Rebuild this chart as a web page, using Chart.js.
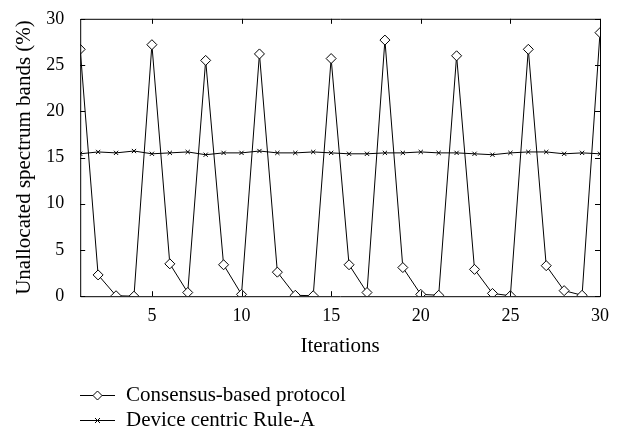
<!DOCTYPE html>
<html>
<head>
<meta charset="utf-8">
<script src="https://cdn.jsdelivr.net/npm/chart.js@4.4.1/dist/chart.umd.min.js"></script>
<style>
	html, body { margin: 0; padding: 0; background: #fff; }
	#wrap { width: 622px; height: 430px; }
</style>
</head>
<body>
<div id="wrap"><canvas id="lineChart" width="622" height="430"></canvas></div>
<script>
const iterations = [1,2,3,4,5,6,7,8,9,10,11,12,13,14,15,16,17,18,19,20,21,22,23,24,25,26,27,28,29,30];
const consensus = [26.7,2.3,0.05,0,27.2,3.5,0.4,25.5,3.4,0.2,26.2,2.6,0.1,0.05,25.7,3.4,0.4,27.7,3.1,0.2,0.1,26.0,2.9,0.3,0.05,26.7,3.3,0.6,0.1,28.5];
const ruleA = [15.4,15.6,15.5,15.7,15.4,15.5,15.6,15.3,15.5,15.5,15.7,15.5,15.5,15.6,15.5,15.4,15.4,15.5,15.5,15.6,15.5,15.5,15.4,15.3,15.5,15.6,15.6,15.4,15.5,15.4];
const xTicks = [5,10,15,20,25,30];
const seriesNames = ['Consensus-based protocol', 'Device centric Rule-A'];

const FONT = 'Liberation Serif';

const toPoints = (ys) => ys.map((y, i) => ({x: iterations[i], y: y}));

// inward tick marks, frame and the legend under the axis title
const framePlugin = {
	id: 'frame',
	afterDraw(chart) {
		const ctx = chart.ctx;
		const a = chart.chartArea;
		const xs = chart.scales.x, ys = chart.scales.y;
		ctx.save();
		ctx.strokeStyle = '#000';
		ctx.lineWidth = 1;
		ctx.beginPath();
		ctx.rect(a.left + 0.5, a.top + 0.5, a.right - a.left, a.bottom - a.top);
		ctx.stroke();
		ctx.beginPath();
		xs.ticks.forEach(t => {
			const px = Math.round(xs.getPixelForValue(t.value)) + 0.5;
			ctx.moveTo(px, a.bottom); ctx.lineTo(px, a.bottom - 5);
			ctx.moveTo(px, a.top); ctx.lineTo(px, a.top + 5);
		});
		ys.ticks.forEach(t => {
			const py = Math.round(ys.getPixelForValue(t.value)) + 0.5;
			ctx.moveTo(a.left, py); ctx.lineTo(a.left + 5, py);
			ctx.moveTo(a.right, py); ctx.lineTo(a.right - 5, py);
		});
		ctx.stroke();

		// legend
		ctx.font = '21px "' + FONT + '"';
		ctx.textBaseline = 'middle';
		ctx.fillStyle = '#000';
		chart.data.datasets.forEach((ds, i) => {
			const y = 395 + i * 25 + 0.5;
			const x0 = 80, x1 = 115;
			ctx.beginPath();
			ctx.moveTo(x0, y); ctx.lineTo(x1, y);
			ctx.stroke();
			const cx = (x0 + x1) / 2;
			ctx.beginPath();
			if (ds.pointStyle === 'rectRot') {
				const r = 4.5;
				ctx.moveTo(cx, y - r); ctx.lineTo(cx + r, y); ctx.lineTo(cx, y + r); ctx.lineTo(cx - r, y); ctx.closePath();
				ctx.fillStyle = '#fff'; ctx.fill(); ctx.stroke();
			} else {
				const r = 2.5;
				ctx.moveTo(cx - r, y - r); ctx.lineTo(cx + r, y + r);
				ctx.moveTo(cx + r, y - r); ctx.lineTo(cx - r, y + r);
				ctx.stroke();
			}
			ctx.fillStyle = '#000';
			ctx.fillText(ds.label, 126, y);
		});
		ctx.restore();
	}
};

const config = {
	type: 'line',
	data: {
		datasets: [{
			label: seriesNames[0],
			data: toPoints(consensus),
			borderColor: '#000',
			borderWidth: 1,
			backgroundColor: '#fff',
			pointStyle: 'rectRot',
			pointRadius: 5,
			pointBorderColor: '#000',
			pointBackgroundColor: '#fff',
			pointBorderWidth: 1,
			tension: 0,
			order: 1
		}, {
			label: seriesNames[1],
			data: toPoints(ruleA),
			borderColor: '#000',
			borderWidth: 1,
			pointStyle: 'crossRot',
			pointRadius: 3,
			pointBorderColor: '#000',
			pointBorderWidth: 1,
			tension: 0,
			order: 2
		}]
	},
	options: {
		responsive: false,
		animation: false,
		layout: { padding: {top: 4, right: 22, bottom: 71, left: 12} },
		plugins: {
			legend: { display: false },
			tooltip: { enabled: false }
		},
		scales: {
			x: {
				type: 'linear',
				min: 1,
				max: 30,
				afterBuildTicks: (scale) => { scale.ticks = xTicks.map(v => ({value: v})); },
				grid: { display: false },
				border: { display: false },
				ticks: {
					color: '#000',
					font: { family: FONT, size: 18 },
					padding: 1,
					maxRotation: 0
				},
				title: {
					display: true,
					text: 'Iterations',
					color: '#000',
					font: { family: FONT, size: 21 },
					padding: {top: 6, bottom: 0}
				}
			},
			y: {
				min: 0,
				max: 30,
				ticks: {
					stepSize: 5,
					color: '#000',
					font: { family: FONT, size: 18 },
					padding: 8
				},
				grid: { display: false },
				border: { display: false },
				title: {
					display: true,
					text: 'Unallocated spectrum bands (%)',
					color: '#000',
					font: { family: FONT, size: 21 },
					padding: {top: 0, bottom: 1}
				}
			}
		}
	},
	plugins: [framePlugin]
};

const ctx = document.getElementById('lineChart').getContext('2d');
const myChart = new Chart(ctx, config);
</script>
</body>
</html>
